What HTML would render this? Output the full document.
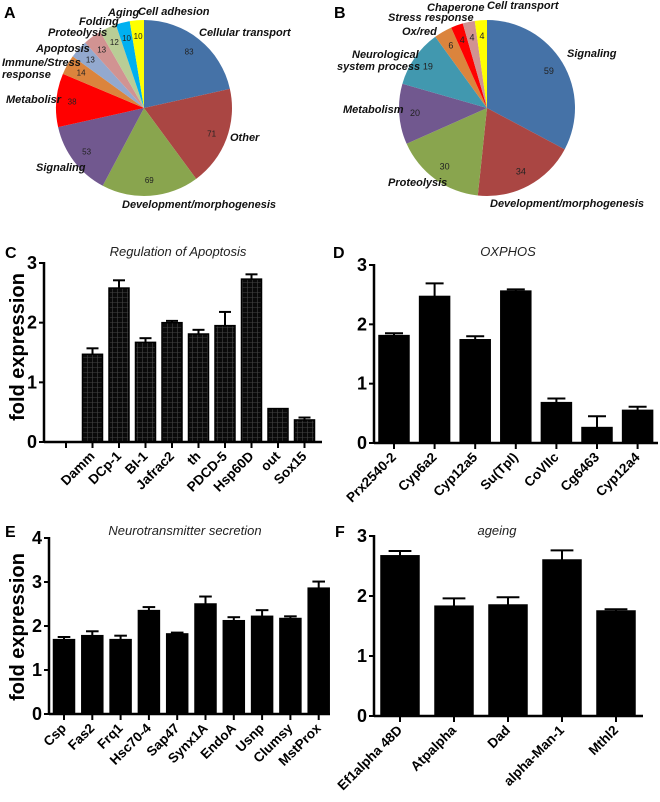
<!DOCTYPE html>
<html><head><meta charset="utf-8">
<style>
html,body{margin:0;padding:0;background:#fff;}
svg{display:block;font-family:"Liberation Sans",Arial,sans-serif;}
</style></head>
<body>
<svg id="fig" width="660" height="802" viewBox="0 0 660 802" xmlns="http://www.w3.org/2000/svg">
<defs>
<pattern id="grid" width="5" height="5" patternUnits="userSpaceOnUse">
<rect width="5" height="5" fill="#0a0a0a"/>
<path d="M0 2.5H5M2.5 0V5" stroke="#444" stroke-width="0.6"/>
</pattern>
</defs>
</svg>
<script>
const NS="http://www.w3.org/2000/svg";
const svg=document.getElementById('fig');

// Pie A data
const pieACats=["Cellular transport","Other","Development/morphogenesis","Signaling","Metabolism","Immune/Stress response","Apoptosis","Proteolysis","Folding","Aging","Cell adhesion"];
const pieAVals=[83,71,69,53,38,14,13,13,12,10,10];
// Pie B data
const pieBCats=["Signaling","Development/morphogenesis","Proteolysis","Metabolism","Neurological system process","Ox/red","Stress response","Chaperone","Cell transport"];
const pieBVals=[59,34,30,20,19,6,4,4,4];
// Bar C
const cCats=["","Damm","DCp-1","BI-1","Jafrac2","th","PDCD-5","Hsp60D","out","Sox15"];
const cVals=[null,1.47,2.58,1.67,2.0,1.81,1.95,2.73,0.56,0.37];
const cErr=[null,0.1,0.13,0.07,0.03,0.07,0.23,0.08,0,0.04];
const cTicks=[0,1,2,3];
// Bar D
const dCats=["Prx2540-2","Cyp6a2","Cyp12a5","Su(Tpl)","CoVIIc","Cg6463","Cyp12a4"];
const dVals=[1.81,2.47,1.74,2.56,0.68,0.26,0.55];
const dErr=[0.04,0.22,0.06,0.03,0.07,0.19,0.06];
const dTicks=[0,1,2,3];
// Bar E
const eCats=["Csp","Fas2","Frq1","Hsc70-4","Sap47","Synx1A","EndoA","Usnp","Clumsy","MstProx"];
const eVals=[1.69,1.78,1.69,2.35,1.82,2.5,2.12,2.22,2.17,2.86];
const eErr=[0.06,0.1,0.09,0.08,0.03,0.17,0.08,0.14,0.05,0.15];
const eTicks=[0,1,2,3,4];
// Bar F
const fCats=["Ef1alpha 48D","Atpalpha","Dad","alpha-Man-1","Mthl2"];
const fVals=[2.67,1.83,1.85,2.6,1.75];
const fErr=[0.08,0.13,0.13,0.16,0.03];
const fTicks=[0,1,2,3];

function el(tag,attrs,parent){const e=document.createElementNS(NS,tag);for(const k in attrs)e.setAttribute(k,attrs[k]);(parent||svg).appendChild(e);return e;}
function txt(s,attrs,parent){const t=el('text',attrs,parent);t.textContent=s;return t;}

// ---------- Pies ----------
const colorsA=["#4572a7","#aa4643","#89a54e","#71588f","#ff0000","#db843d","#93a9cf","#d19392","#b9cd96","#00b0f0","#ffff00"];
const colorsB=["#4572a7","#aa4643","#89a54e","#71588f","#4198af","#db843d","#ff0000","#d19392","#ffff00"];
function pie(cx,cy,r,vals,cats,colors,name){
  const g=el('g',{});
  
  
  const tot=vals.reduce((a,b)=>a+b,0);
  let a0=0;
  vals.forEach((v,i)=>{
    const a1=a0+v/tot*2*Math.PI;
    const x0=cx+r*Math.sin(a0),y0=cy-r*Math.cos(a0),x1=cx+r*Math.sin(a1),y1=cy-r*Math.cos(a1);
    const p=el('path',{d:`M${cx},${cy}L${x0},${y0}A${r},${r} 0 ${a1-a0>Math.PI?1:0} 1 ${x1},${y1}Z`,fill:colors[i]},g);
    
    
    const am=(a0+a1)/2, rr=r*0.82;
    const n=txt(String(v),{x:cx+rr*Math.sin(am),y:cy-rr*Math.cos(am)+3,'font-size':vals===pieBVals?9:8,'text-anchor':'middle',fill:'#222'},g);
    
    
    a0=a1;
  });
  return g;
}
pie(144,108,88,pieAVals,pieACats,colorsA,'pie-chart-a');
pie(487,108,88,pieBVals,pieBCats,colorsB,'pie-chart-b');

const lblStyle={'font-size':11,'font-weight':'bold','font-style':'italic',fill:'#111'};
const pieALabels=[["Cellular transport",199,36],["Other",230,141],["Development/morphogenesis",122,208],["Signaling",36,171],["Metabolisr",6,103],["Immune/Stress",2,66],["response",2,78],["Apoptosis",36,52],["Proteolysis",48,36],["Folding",79,25],["Aging",108,16],["Cell adhesion",138,15]];
const pieBLabels=[["Signaling",567,57],["Development/morphogenesis",490,207],["Proteolysis",388,186],["Metabolism",343,113],["Neurological",352,58],["system process",337,70],["Ox/red",402,35],["Stress response",388,21],["Chaperone",427,11],["Cell transport",487,9]];
pieALabels.concat(pieBLabels).forEach(l=>{
  const t=txt(l[0],Object.assign({x:l[1],y:l[2]},lblStyle));
  
  
});
[["A",4,18],["B",334,18],["C",5,258],["D",333,258],["E",5,537],["F",335,537]].forEach(l=>{
  const t=txt(l[0],{x:l[1],y:l[2],'font-size':16,'font-weight':'bold',fill:'#000'});
  
  
});

// ---------- Bar charts ----------
function bar(cfg){
  const g=el('g',{});
  
  
  const yS=v=>cfg.y0-(v/cfg.ymax)*(cfg.y0-cfg.ytop);
  const xS=i=>cfg.x1+i*cfg.step;
  cfg.vals.forEach((v,i)=>{
    if(v==null)return;
    const x=xS(i), y=yS(v);
    const e=cfg.err[i];
    if(e>0){
      const ey=yS(v+e);
      el('line',{x1:x,y1:y,x2:x,y2:ey,stroke:'#000','stroke-width':2},g);
      const cap=el('line',{x1:x-cfg.bw*0.3,y1:ey,x2:x+cfg.bw*0.3,y2:ey,stroke:'#000','stroke-width':2},g);
      
      
    }
    const r=el('rect',{x:x-cfg.bw/2,y:y,width:cfg.bw,height:cfg.y0-y,fill:cfg.fill,stroke:'#000','stroke-width':1.5},g);
    
    
  });
  el('line',{x1:cfg.ax,y1:cfg.ytop-1,x2:cfg.ax,y2:cfg.y0,stroke:'#000','stroke-width':2.5},g);
  el('line',{x1:cfg.ax,y1:cfg.y0,x2:cfg.xend,y2:cfg.y0,stroke:'#000','stroke-width':2.5},g);
  cfg.ticks.forEach(t=>{
    const y=yS(t);
    el('line',{x1:cfg.ax-5,y1:y,x2:cfg.ax,y2:y,stroke:'#000','stroke-width':2},g);
    const tl=txt(String(t),{x:cfg.ax-7,y:y+6,'font-size':18,'font-weight':'bold','text-anchor':'end'},g);
    
    
  });
  cfg.cats.forEach((c,i)=>{
    const x=xS(i);
    el('line',{x1:x,y1:cfg.y0,x2:x,y2:cfg.y0+6,stroke:'#000','stroke-width':2},g);
    if(!c)return;
    const tl=txt(c,{x:x+3,y:cfg.y0+15,'font-size':cfg.fs,'font-weight':'bold','text-anchor':'end',transform:`rotate(-45 ${x+3} ${cfg.y0+15})`},g);
    
    
  });
  const tt=txt(cfg.title,{x:cfg.tx,y:cfg.ty,'font-size':13,'font-style':'italic','text-anchor':'middle',fill:'#222'},g);
  
  
  if(cfg.ylab){
    const yl=txt('fold expression',{x:0,y:0,'font-size':20,'font-weight':'bold','text-anchor':'middle',transform:`translate(${cfg.ylab[0]},${cfg.ylab[1]}) rotate(-90)`},g);
    
    
  }
}
bar({name:'chart-c-apoptosis',cats:cCats,vals:cVals,err:cErr,ticks:cTicks,ymax:3,y0:442,ytop:263,ax:44,xend:322,x1:66,step:26.5,bw:20,fill:'url(#grid)',fs:13.5,title:'Regulation of Apoptosis',tx:178,ty:256,ylab:[24,347]});
bar({name:'chart-d-oxphos',cats:dCats,vals:dVals,err:dErr,ticks:dTicks,ymax:3,y0:443,ytop:265,ax:374,xend:658,x1:394,step:40.6,bw:30,fill:'#000',fs:13.5,title:'OXPHOS',tx:508,ty:256});
bar({name:'chart-e-neurotransmitter',cats:eCats,vals:eVals,err:eErr,ticks:eTicks,ymax:4,y0:714,ytop:538,ax:49,xend:330,x1:64,step:28.3,bw:21,fill:'#000',fs:13.5,title:'Neurotransmitter secretion',tx:185,ty:535,ylab:[24,627]});
bar({name:'chart-f-ageing',cats:fCats,vals:fVals,err:fErr,ticks:fTicks,ymax:3,y0:716,ytop:536,ax:374,xend:643,x1:400,step:54,bw:38,fill:'#000',fs:13.5,title:'ageing',tx:497,ty:535});
</script>
</body></html>
